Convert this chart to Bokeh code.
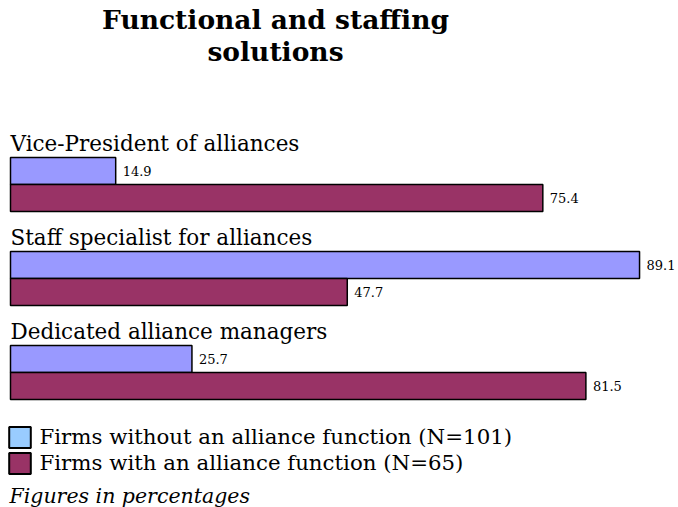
import numpy as np
from bokeh.plotting import figure
from bokeh.models import Range1d, Label, Legend, LegendItem, ColumnDataSource
from bokeh.embed import file_html
from bokeh.resources import INLINE
from bokeh.core.properties import value

# ---- data ----
categories = ["Vice-President of alliances",
              "Staff specialist for alliances",
              "Dedicated alliance managers"]
without_function = [14.9, 89.1, 25.7]
with_function = [75.4, 47.7, 81.5]
series_names = ["Firms without an alliance function (N=101)",
                "Firms with an alliance function (N=65)"]
title_lines = ["Functional and staffing", "solutions"]
note = "Figures in percentages"

# ---- layout / style ----
W, H = 678, 507
FONT = "DejaVu Serif"
PX_PER_UNIT = 7.06
X0 = 10
PITCH = 94
FIRST_BAR = 170.5
BAR_H = 27
LABEL_MID = 143
BLUE = "#9999ff"
MAROON = "#993366"
SWATCH_BLUE = "#99ccff"

p = figure(width=W, height=H, output_backend="svg", toolbar_location=None,
           x_range=Range1d(-X0 / PX_PER_UNIT, (W - X0) / PX_PER_UNIT),
           y_range=Range1d(H, 0),
           x_axis_location=None, y_axis_location=None, min_border=0)
p.grid.visible = False
p.outline_line_color = None

idx = np.arange(len(categories))
src = ColumnDataSource(dict(
    cat=categories,
    wo=without_function,
    w=with_function,
    yb=FIRST_BAR + PITCH * idx,
    ym=FIRST_BAR + BAR_H + PITCH * idx,
    yl=LABEL_MID + PITCH * idx,
    wo_txt=[f"{v:.1f}" for v in without_function],
    w_txt=[f"{v:.1f}" for v in with_function],
))

p.hbar(y="yb", left=0, right="wo", height=BAR_H, fill_color=BLUE,
       line_color="black", line_width=1.5, source=src)
p.hbar(y="ym", left=0, right="w", height=BAR_H, fill_color=MAROON,
       line_color="black", line_width=1.5, source=src)

p.text(x=0, y="yl", text="cat", text_font=value(FONT), text_font_size="21.5px",
       text_baseline="middle", text_color="black", source=src)
p.text(x="wo", y="yb", text="wo_txt", x_offset=7, text_font=value(FONT),
       text_font_size="13px", text_baseline="middle", text_color="black", source=src)
p.text(x="w", y="ym", text="w_txt", x_offset=7, text_font=value(FONT),
       text_font_size="13px", text_baseline="middle", text_color="black", source=src)

# title
for line, mid in zip(title_lines, [18.5, 50.5]):
    p.add_layout(Label(x=275, y=H - mid, x_units="screen", y_units="screen",
                       text=line, text_align="center", text_baseline="middle",
                       text_font=FONT, text_font_style="bold", text_font_size="26.5px",
                       text_color="black"))

# legend (swatch-only renderers; NaN keeps them off the plot)
r1 = p.rect(x=[np.nan], y=[np.nan], width=1, height=1, fill_color=SWATCH_BLUE,
            line_color="black", line_width=2)
r2 = p.rect(x=[np.nan], y=[np.nan], width=1, height=1, fill_color=MAROON,
            line_color="black", line_width=2)
legend = Legend(items=[LegendItem(label=series_names[0], renderers=[r1]),
                       LegendItem(label=series_names[1], renderers=[r2])],
                location=(5.5, 31.5), orientation="vertical",
                glyph_width=27, glyph_height=26, label_standoff=7, spacing=0,
                padding=0, margin=0, border_line_color=None,
                background_fill_alpha=0, label_text_font=FONT,
                label_text_font_size="21.3px", label_text_color="black")
p.add_layout(legend)

# note
p.add_layout(Label(x=9, y=H - 495.5, x_units="screen", y_units="screen",
                   text=note, text_baseline="middle", text_font=FONT,
                   text_font_style="italic", text_font_size="20.5px",
                   text_color="black"))

open("out.html", "w").write(file_html(p, INLINE))
